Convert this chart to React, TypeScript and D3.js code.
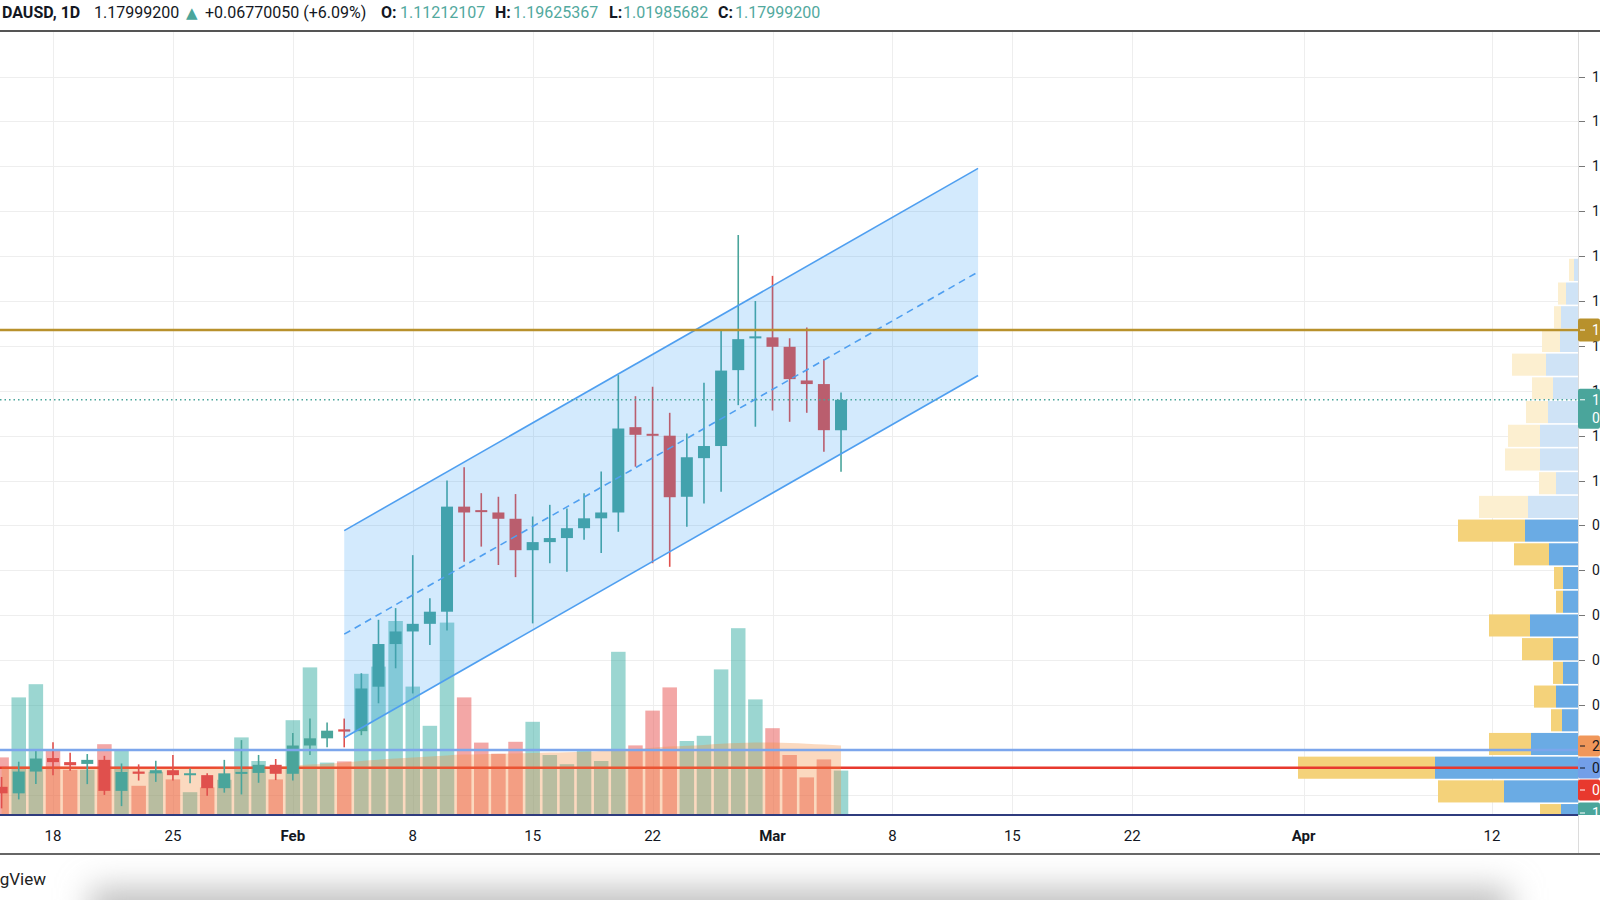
import { useEffect, useRef } from "react";
import * as d3 from "d3";

const W = 1600;
const H = 900;
const FONT = "Roboto, 'Noto Sans', 'Liberation Sans', sans-serif";

// daily candles, Jan 15 -> Mar 5 2021
const FIRST_DAY = new Date(Date.UTC(2021, 0, 15));
const opens = [0.318, 0.3035, 0.352, 0.382, 0.373, 0.369, 0.378, 0.309, 0.352, 0.348, 0.355, 0.344, 0.344, 0.315, 0.348, 0.349, 0.367, 0.347, 0.41, 0.426, 0.446, 0.442, 0.541, 0.636, 0.664, 0.681, 0.708, 0.942, 0.932, 0.929, 0.915, 0.845, 0.863, 0.872, 0.894, 0.916, 0.929, 1.119, 1.102, 1.1, 0.964, 1.05, 1.077, 1.246, 1.315, 1.319, 1.298, 1.223, 1.215, 1.11212107];
const highs = [0.34, 0.374, 0.4, 0.417, 0.394, 0.391, 0.387, 0.37, 0.368, 0.376, 0.389, 0.359, 0.348, 0.378, 0.422, 0.389, 0.38, 0.438, 0.47, 0.461, 0.47, 0.571, 0.69, 0.716, 0.834, 0.738, 1.0, 1.03, 0.972, 0.964, 0.97, 0.92, 0.946, 0.938, 0.972, 1.02, 1.235, 1.188, 1.209, 1.151, 1.105, 1.218, 1.334, 1.547, 1.4, 1.456, 1.317, 1.341, 1.27, 1.19625367];
const lows = [0.27, 0.29, 0.324, 0.344, 0.354, 0.324, 0.3, 0.275, 0.332, 0.329, 0.332, 0.326, 0.298, 0.305, 0.301, 0.327, 0.333, 0.332, 0.389, 0.406, 0.406, 0.433, 0.504, 0.582, 0.526, 0.634, 0.666, 0.819, 0.853, 0.812, 0.785, 0.682, 0.816, 0.797, 0.868, 0.839, 0.886, 1.031, 0.816, 0.808, 0.897, 0.949, 0.975, 1.168, 1.12, 1.156, 1.131, 1.151, 1.064, 1.01985682];
const closes = [0.3035, 0.352, 0.381, 0.373, 0.366, 0.378, 0.309, 0.351, 0.347, 0.355, 0.344, 0.346, 0.315, 0.348, 0.349, 0.367, 0.347, 0.41, 0.426, 0.443, 0.441, 0.537, 0.636, 0.664, 0.681, 0.708, 0.942, 0.929, 0.928, 0.915, 0.845, 0.863, 0.872, 0.894, 0.916, 0.929, 1.116, 1.102, 1.098, 0.963, 1.052, 1.077, 1.245, 1.315, 1.319, 1.298, 1.226, 1.215, 1.1122915, 1.179992];
// volume in millions
const volumes = [1.44, 2.94, 3.27, 1.61, 1.13, 1.13, 1.77, 1.63, 0.73, 1.08, 0.89, 0.57, 0.69, 0.88, 1.94, 1.35, 0.89, 2.37, 3.69, 1.31, 1.34, 3.53, 3.71, 4.85, 3.21, 2.23, 4.81, 2.94, 1.81, 1.53, 1.83, 2.33, 1.5, 1.27, 1.61, 1.35, 4.08, 1.74, 2.61, 3.19, 1.85, 1.98, 3.64, 4.67, 2.89, 2.17, 1.5, 0.94, 1.39, 1.11];
const volumeMA = [1.2, 1.21, 1.22, 1.22, 1.21, 1.2, 1.2, 1.2, 1.19, 1.19, 1.19, 1.19, 1.19, 1.2, 1.2, 1.2, 1.21, 1.23, 1.26, 1.28, 1.31, 1.35, 1.38, 1.41, 1.44, 1.46, 1.49, 1.51, 1.52, 1.53, 1.54, 1.55, 1.56, 1.57, 1.58, 1.6, 1.63, 1.65, 1.68, 1.71, 1.73, 1.75, 1.78, 1.8, 1.81, 1.81, 1.8, 1.78, 1.76, 1.74];

// visible range volume profile, rows from top
const PROFILE_TOP = 1.4958;
const PROFILE_STEP = 0.0528;
const profileUp = [0.4, 1.2, 1.7, 1.8, 3.2, 2.5, 3.0, 3.8, 3.8, 2.2, 5.0, 5.3, 2.9, 1.5, 1.5, 4.8, 2.5, 1.5, 2.2, 1.6, 4.7, 14.3, 7.4, 1.7];
const profileDown = [0.5, 0.8, 0.7, 1.8, 3.4, 2.1, 2.2, 3.2, 3.5, 1.7, 4.9, 6.7, 3.5, 0.9, 0.7, 4.1, 3.1, 1.0, 2.2, 1.1, 4.2, 13.7, 6.6, 2.1];
const VALUE_AREA_FROM = 11;

// drawings
const channelDates = [new Date(Date.UTC(2021, 1, 4)), new Date(Date.UTC(2021, 2, 13))];
const channelUpper = [0.8886, 1.6953];
const channelWidth = 0.4612;
const resistance = 1.3354;
const supportLine = 0.4;

const tickDates = [
  [2021, 0, 18], [2021, 0, 25], [2021, 1, 1], [2021, 1, 8], [2021, 1, 15], [2021, 1, 22],
  [2021, 2, 1], [2021, 2, 8], [2021, 2, 15], [2021, 2, 22], [2021, 3, 1], [2021, 3, 12],
].map(([yy, m, d]) => new Date(Date.UTC(yy, m, d)));
const tickLabels = ["18", "25", "Feb", "8", "15", "22", "Mar", "8", "15", "22", "Apr", "12"];

const UP = "#4aa59b";
const DOWN = "#e0504d";

export default function App() {
  const ref = useRef<SVGSVGElement | null>(null);

  useEffect(() => {
    if (!ref.current) return;
    document.body.style.margin = "0";
    const svg = d3.select(ref.current);
    svg.selectAll("*").remove();

    const paneRight = 1578;
    const paneTop = 32;
    const paneBottom = 815;
    const labelX = 1592;

    const x = d3
      .scaleUtc()
      .domain([new Date(Date.UTC(2021, 0, 18)), new Date(Date.UTC(2021, 2, 1))])
      .range([53, 772.5]);
    const y = d3.scaleLinear().domain([0.3, 1.9]).range([794.9, 76.5]);
    const yVol = d3.scaleLinear().domain([0, 5]).range([paneBottom, 615]);
    const wProf = d3.scaleLinear().domain([0, 1]).range([0, 10]);

    const dates = opens.map((_, i) => d3.utcDay.offset(FIRST_DAY, i));
    const bars = dates.map((d, i) => ({
      d,
      o: opens[i],
      h: highs[i],
      l: lows[i],
      c: closes[i],
      v: volumes[i],
      ma: volumeMA[i],
      up: closes[i] >= opens[i],
    }));

    svg.append("rect").attr("width", W).attr("height", H).attr("fill", "#fff");

    const defs = svg.append("defs");
    defs
      .append("clipPath")
      .attr("id", "pane")
      .append("rect")
      .attr("x", 0)
      .attr("y", paneTop)
      .attr("width", paneRight)
      .attr("height", paneBottom - paneTop);
    defs
      .append("clipPath")
      .attr("id", "axisCol")
      .append("rect")
      .attr("x", paneRight)
      .attr("y", paneTop)
      .attr("width", W - paneRight)
      .attr("height", paneBottom - paneTop);
    defs
      .append("filter")
      .attr("id", "blur")
      .attr("x", "-20%")
      .attr("y", "-200%")
      .attr("width", "140%")
      .attr("height", "500%")
      .append("feGaussianBlur")
      .attr("stdDeviation", 16);

    const pane = svg.append("g").attr("clip-path", "url(#pane)");

    // grid
    const priceTicks = y.ticks(16);
    pane
      .append("g")
      .attr("stroke", "#eeeeee")
      .attr("stroke-width", 1)
      .call((g) =>
        g
          .selectAll("line.h")
          .data(priceTicks)
          .join("line")
          .attr("class", "h")
          .attr("x1", 0)
          .attr("x2", paneRight)
          .attr("y1", (d) => Math.round(y(d)) + 0.5)
          .attr("y2", (d) => Math.round(y(d)) + 0.5)
      )
      .call((g) =>
        g
          .selectAll("line.v")
          .data(tickDates)
          .join("line")
          .attr("class", "v")
          .attr("x1", (d) => Math.round(x(d)) + 0.5)
          .attr("x2", (d) => Math.round(x(d)) + 0.5)
          .attr("y1", paneTop)
          .attr("y2", paneBottom)
      );

    // volume
    const barW = 14.5;
    pane
      .append("g")
      .selectAll("rect")
      .data(bars)
      .join("rect")
      .attr("x", (d) => x(d.d) - barW / 2)
      .attr("width", barW)
      .attr("y", (d) => yVol(d.v))
      .attr("height", (d) => paneBottom - yVol(d.v))
      .attr("fill", (d) => (d.up ? "rgba(38,166,154,0.46)" : "rgba(232,80,78,0.5)"));

    // volume profile
    const rows = profileUp.map((u, i) => ({
      up: u,
      down: profileDown[i],
      top: PROFILE_TOP - i * PROFILE_STEP,
      va: i >= VALUE_AREA_FROM,
    }));
    const prof = pane.append("g");
    rows.forEach((r) => {
      const y0 = y(r.top) + 0.8;
      const h = y(r.top - PROFILE_STEP) - y(r.top) - 1.6;
      const wu = wProf(r.up);
      const wd = wProf(r.down);
      prof
        .append("rect")
        .attr("x", paneRight - wu)
        .attr("y", y0)
        .attr("width", wu)
        .attr("height", h)
        .attr("fill", r.va ? "#6aabe4" : "#cfe3f6");
      prof
        .append("rect")
        .attr("x", paneRight - wu - wd)
        .attr("y", y0)
        .attr("width", wd)
        .attr("height", h)
        .attr("fill", r.va ? "#f4d27a" : "#fcefd0");
    });

    // point of control
    const pocIdx = d3.maxIndex(rows, (r) => r.up + r.down);
    const pocPrice = PROFILE_TOP - (pocIdx + 0.5) * PROFILE_STEP;
    pane
      .append("line")
      .attr("x1", 0)
      .attr("x2", paneRight)
      .attr("y1", y(pocPrice))
      .attr("y2", y(pocPrice))
      .attr("stroke", "#e8392e")
      .attr("stroke-width", 2.5);

    // volume MA area
    pane
      .append("path")
      .datum(bars)
      .attr(
        "d",
        d3
          .area<(typeof bars)[number]>()
          .x((d) => x(d.d))
          .y0(paneBottom)
          .y1((d) => yVol(d.ma))
          .curve(d3.curveMonotoneX)
      )
      .attr("fill", "rgba(242,140,60,0.33)");

    // candles
    const bodyW = 12;
    const candle = pane
      .append("g")
      .selectAll("g")
      .data(bars)
      .join("g")
      .attr("fill", (d) => (d.up ? UP : DOWN))
      .attr("stroke", (d) => (d.up ? UP : DOWN));
    candle
      .append("line")
      .attr("x1", (d) => x(d.d))
      .attr("x2", (d) => x(d.d))
      .attr("y1", (d) => y(d.h))
      .attr("y2", (d) => y(d.l))
      .attr("stroke-width", 1.6);
    candle
      .append("rect")
      .attr("stroke", "none")
      .attr("x", (d) => x(d.d) - bodyW / 2)
      .attr("width", bodyW)
      .attr("y", (d) => Math.min(y(d.o), y(d.c)) - (Math.abs(y(d.o) - y(d.c)) < 2 ? 1 : 0))
      .attr("height", (d) => Math.max(2, Math.abs(y(d.o) - y(d.c))));

    // parallel channel
    const cx0 = x(channelDates[0]);
    const cx1 = x(channelDates[1]);
    const up0 = y(channelUpper[0]);
    const up1 = y(channelUpper[1]);
    const lo0 = y(channelUpper[0] - channelWidth);
    const lo1 = y(channelUpper[1] - channelWidth);
    const mid0 = y(channelUpper[0] - channelWidth / 2);
    const mid1 = y(channelUpper[1] - channelWidth / 2);
    pane
      .append("path")
      .attr("d", `M${cx0},${up0}L${cx1},${up1}L${cx1},${lo1}L${cx0},${lo0}Z`)
      .attr("fill", "rgba(33,150,243,0.2)");
    const chLines = pane.append("g").attr("stroke", "#4f9ff0").attr("stroke-width", 1.6);
    chLines.append("line").attr("x1", cx0).attr("y1", up0).attr("x2", cx1).attr("y2", up1);
    chLines.append("line").attr("x1", cx0).attr("y1", lo0).attr("x2", cx1).attr("y2", lo1);
    chLines
      .append("line")
      .attr("x1", cx0)
      .attr("y1", mid0)
      .attr("x2", cx1)
      .attr("y2", mid1)
      .attr("stroke-dasharray", "7,5");

    // horizontal lines
    pane
      .append("line")
      .attr("x1", 0)
      .attr("x2", paneRight)
      .attr("y1", y(resistance))
      .attr("y2", y(resistance))
      .attr("stroke", "#b8912c")
      .attr("stroke-width", 2.6);
    pane
      .append("line")
      .attr("x1", 0)
      .attr("x2", paneRight)
      .attr("y1", y(supportLine))
      .attr("y2", y(supportLine))
      .attr("stroke", "#7ca6ec")
      .attr("stroke-width", 2.6);
    const last = bars[bars.length - 1];
    const prevClose = closes[closes.length - 2];
    pane
      .append("line")
      .attr("x1", 0)
      .attr("x2", paneRight)
      .attr("y1", y(last.c))
      .attr("y2", y(last.c))
      .attr("stroke", UP)
      .attr("stroke-width", 1.4)
      .attr("stroke-dasharray", "1.5,3");
    svg
      .append("line")
      .attr("x1", 0)
      .attr("x2", paneRight)
      .attr("y1", paneBottom)
      .attr("y2", paneBottom)
      .attr("stroke", "#2f3c7e")
      .attr("stroke-width", 2);

    // price axis
    svg
      .append("line")
      .attr("x1", paneRight + 0.5)
      .attr("x2", paneRight + 0.5)
      .attr("y1", paneTop)
      .attr("y2", 854)
      .attr("stroke", "#dcdcdc");
    const yAxis = svg.append("g");
    priceTicks.forEach((p) => {
      const yy = Math.round(y(p)) + 0.5;
      yAxis
        .append("line")
        .attr("x1", paneRight + 1)
        .attr("x2", paneRight + 7)
        .attr("y1", yy)
        .attr("y2", yy)
        .attr("stroke", "#777");
      yAxis
        .append("text")
        .attr("x", labelX)
        .attr("y", yy)
        .attr("dy", "0.35em")
        .attr("font-family", FONT)
        .attr("font-size", 14)
        .attr("fill", "#131722")
        .text(d3.format(".8f")(p));
    });

    // price labels
    const labels = svg.append("g").attr("clip-path", "url(#axisCol)");
    const box = (cy: number, h: number, fill: string, ink: string, lines: string[]) => {
      labels
        .append("rect")
        .attr("x", paneRight)
        .attr("y", cy - h / 2)
        .attr("width", W - paneRight)
        .attr("height", h)
        .attr("rx", 2)
        .attr("fill", fill);
      labels
        .append("line")
        .attr("x1", paneRight + 2)
        .attr("x2", paneRight + 7)
        .attr("y1", cy - (lines.length - 1) * 9)
        .attr("y2", cy - (lines.length - 1) * 9)
        .attr("stroke", ink);
      lines.forEach((t, i) =>
        labels
          .append("text")
          .attr("x", labelX)
          .attr("y", cy + (i - (lines.length - 1) / 2) * 18)
          .attr("dy", "0.35em")
          .attr("font-family", FONT)
          .attr("font-size", 14)
          .attr("fill", ink)
          .text(t)
      );
    };
    box(y(resistance), 23, "#b8912c", "#fff", [d3.format(".8f")(resistance)]);
    box(y(last.c) + 9, 40, "#4aa59b", "#fff", [d3.format(".8f")(last.c), "07:41:26"]);
    box(746, 21, "#f0975a", "#131722", ["2.27M"]);
    box(768, 21, "#739fe8", "#131722", [d3.format(".8f")(supportLine)]);
    box(790, 21, "#e8392e", "#fff", [d3.format(".8f")(pocPrice)]);
    box(813, 21, "#4aa59b", "#fff", [`${last.v.toFixed(2)}M`]);

    // time axis
    svg
      .append("g")
      .selectAll("text")
      .data(tickDates)
      .join("text")
      .attr("x", (d) => x(d))
      .attr("y", 836)
      .attr("dy", "0.35em")
      .attr("text-anchor", "middle")
      .attr("font-family", FONT)
      .attr("font-size", 15)
      .attr("font-weight", (_, i) => (/[A-Za-z]/.test(tickLabels[i]) ? 700 : 400))
      .attr("fill", "#131722")
      .text((_, i) => tickLabels[i]);

    // frame lines
    svg
      .append("line")
      .attr("x1", 0)
      .attr("x2", W)
      .attr("y1", 31)
      .attr("y2", 31)
      .attr("stroke", "#555")
      .attr("stroke-width", 2);
    svg
      .append("line")
      .attr("x1", 0)
      .attr("x2", W)
      .attr("y1", 854)
      .attr("y2", 854)
      .attr("stroke", "#666")
      .attr("stroke-width", 2);

    // shadow + watermark
    svg
      .append("rect")
      .attr("x", 90)
      .attr("y", 888)
      .attr("width", 1420)
      .attr("height", 44)
      .attr("fill", "#c0c0c0")
      .attr("filter", "url(#blur)");
    svg
      .append("text")
      .attr("x", 46)
      .attr("y", 885)
      .attr("text-anchor", "end")
      .attr("font-family", FONT)
      .attr("font-size", 17)
      .attr("fill", "#222")
      .text("TradingView");

    // header legend
    const head = svg
      .append("text")
      .attr("y", 18)
      .attr("font-family", FONT)
      .attr("font-size", 16)
      .attr("fill", "#131722");
    const seg = (
      xx: number,
      t: string,
      opts: { bold?: boolean; color?: string; size?: number; family?: string } = {}
    ) =>
      head
        .append("tspan")
        .attr("x", xx)
        .attr("font-weight", opts.bold ? 700 : 400)
        .attr("fill", opts.color ?? "#131722")
        .attr("font-size", opts.size ?? 16)
        .attr("font-family", opts.family ?? FONT)
        .text(t);
    const fmt = d3.format(".8f");
    const change = last.c - prevClose;
    seg(2, "DAUSD, 1D", { bold: true });
    seg(94, fmt(last.c));
    seg(186, "▲", { color: UP, size: 15, family: "'DejaVu Sans', sans-serif" });
    seg(205, `+${fmt(change)} (+${((change / prevClose) * 100).toFixed(2)}%)`);
    seg(381, "O:", { bold: true });
    seg(400, fmt(last.o), { color: "#52a99e" });
    seg(495, "H:", { bold: true });
    seg(513, fmt(last.h), { color: "#52a99e" });
    seg(609, "L:", { bold: true });
    seg(623, fmt(last.l), { color: "#52a99e" });
    seg(718, "C:", { bold: true });
    seg(735, fmt(last.c), { color: "#52a99e" });
  }, []);

  return <svg ref={ref} width={W} height={H} style={{ display: "block" }} />;
}
